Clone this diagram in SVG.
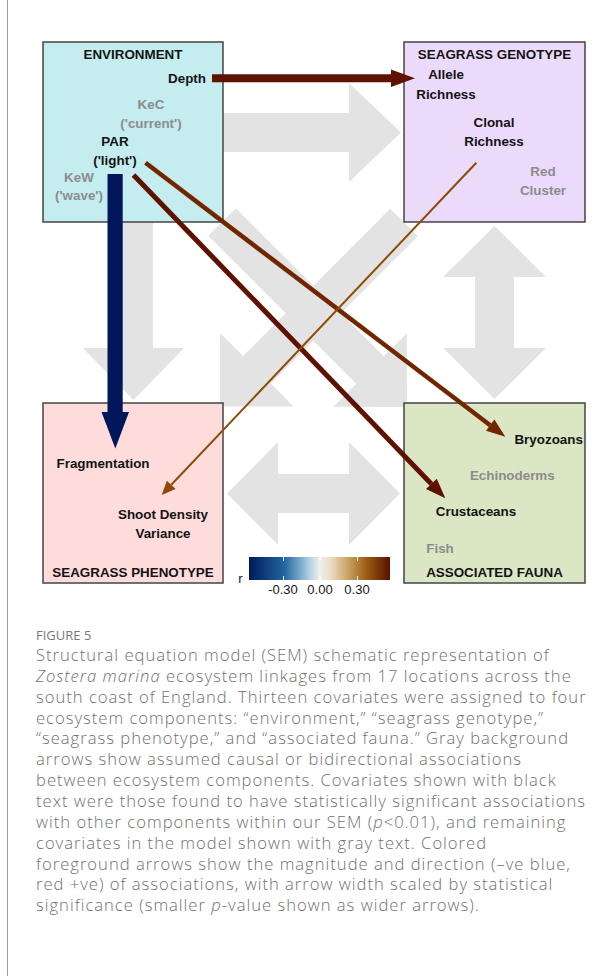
<svg xmlns="http://www.w3.org/2000/svg" width="614" height="976" viewBox="0 0 614 976">
<defs>
<style>
.bg{fill:#e3e3e3}
.box{stroke:#444;stroke-width:1.5}
.t{font-family:"Liberation Sans",Arial,sans-serif;font-weight:bold;font-size:13.4px;fill:#141414;text-anchor:middle}
.g{fill:#8c8c8c}
.lg{font-family:"Liberation Sans",Arial,sans-serif;font-size:13px;fill:#141414;text-anchor:middle}
.cap{font-family:"Open Sans","Liberation Sans",sans-serif;font-weight:300;font-size:16.6px;letter-spacing:1px;fill:#707070}
</style>
<linearGradient id="rg" x1="0" y1="0" x2="1" y2="0">
<stop offset="0" stop-color="#001a5c"/>
<stop offset="0.25" stop-color="#22669f"/>
<stop offset="0.42" stop-color="#a9cbdf"/>
<stop offset="0.5" stop-color="#eef0ee"/>
<stop offset="0.58" stop-color="#eadcc2"/>
<stop offset="0.72" stop-color="#c49a58"/>
<stop offset="0.84" stop-color="#985a10"/>
<stop offset="1" stop-color="#5a1000"/>
</linearGradient>
</defs>
<rect width="614" height="976" fill="#fff"/>
<line x1="7.5" y1="0" x2="7.5" y2="976" stroke="#9a9a9a" stroke-width="1"/>

<g id="background-arrows">
<polygon class="bg" points="223,113 349,113 349,83 401,132.5 349,182 349,152 223,152"/>
<polygon class="bg" points="114,222 153,222 153,348 184,348 133.5,400 83,348 114,348"/>
<polygon class="bg" points="235.8,208.2 383.8,356.2 406.8,333.2 407,407 333.2,406.8 356.2,383.8 208.2,235.8"/>
<polygon class="bg" points="390.2,208.7 417.8,236.3 270.6,383.5 293.6,406.5 220,406.5 220,332.9 243,355.9"/>
<polygon class="bg" points="494.5,226 546,277 514,277 514,348 546,348 494.5,399 443,348 475,348 475,277 443,277"/>
<polygon class="bg" points="227,493.5 278,442 278,474 349,474 349,442 400,493.5 349,545 349,513 278,513 278,545"/>
</g>

<g id="environment">
<rect class="box" x="43" y="42" width="180" height="180" fill="#c5ecee"/>
<text class="t" x="133" y="59">ENVIRONMENT</text>
<text class="t" x="206" y="83" style="text-anchor:end">Depth</text>
<text class="t g" x="151" y="109">KeC</text>
<text class="t g" x="151" y="128">('current')</text>
<text class="t" x="115" y="146">PAR</text>
<text class="t" x="115" y="165">('light')</text>
<text class="t g" x="79" y="181.5">KeW</text>
<text class="t g" x="79" y="200">('wave')</text>
</g>

<g id="seagrass-genotype">
<rect class="box" x="404" y="42" width="181" height="180" fill="#ecdafb"/>
<text class="t" x="494.5" y="58.5">SEAGRASS GENOTYPE</text>
<text class="t" x="446" y="79">Allele</text>
<text class="t" x="446" y="98.5">Richness</text>
<text class="t" x="494" y="127">Clonal</text>
<text class="t" x="494" y="146">Richness</text>
<text class="t g" x="543" y="175.5">Red</text>
<text class="t g" x="543" y="195">Cluster</text>
</g>

<g id="seagrass-phenotype">
<rect class="box" x="43" y="403" width="180" height="180" fill="#fddcdb"/>
<text class="t" x="103" y="468">Fragmentation</text>
<text class="t" x="163" y="519">Shoot Density</text>
<text class="t" x="163" y="537.5">Variance</text>
<text class="t" x="133" y="576.5">SEAGRASS PHENOTYPE</text>
</g>

<g id="associated-fauna">
<rect class="box" x="404" y="403" width="181" height="180" fill="#dae6c4"/>
<text class="t" x="548.7" y="444">Bryozoans</text>
<text class="t g" x="512.3" y="480">Echinoderms</text>
<text class="t" x="476" y="516">Crustaceans</text>
<text class="t g" x="440" y="552.5">Fish</text>
<text class="t" x="494.5" y="576.5">ASSOCIATED FAUNA</text>
</g>

<g id="connectors">
<line x1="212" y1="78.3" x2="392" y2="78.3" stroke="#5f1200" stroke-width="8"/>
<polygon points="391,69.5 415,78.3 391,87" fill="#5f1200"/>
<rect x="107.5" y="174" width="15.2" height="239" fill="#02165c"/>
<polygon points="101.5,412 129,412 115.3,448.5" fill="#02165c"/>
<line x1="145.5" y1="162.7" x2="490.2" y2="425.2" stroke="#722600" stroke-width="4.5"/>
<polygon points="486,430.8 505.3,436.7 494.4,419.6" fill="#722600"/>
<line x1="133.5" y1="175" x2="431.4" y2="483.9" stroke="#5f1100" stroke-width="5"/>
<polygon points="426,489.1 445.3,498.3 436.8,478.7" fill="#5f1100"/>
<line x1="476.3" y1="162.7" x2="171.3" y2="484.8" stroke="#8c4c04" stroke-width="2"/>
<polygon points="175.7,488.9 161.7,495 166.9,480.7" fill="#8c4c04"/>
</g>

<g id="legend">
<rect x="249" y="557" width="141" height="23" fill="url(#rg)"/>
<g stroke="#fff" stroke-width="1">
<line x1="283.5" y1="557" x2="283.5" y2="561"/><line x1="283.5" y1="576" x2="283.5" y2="580"/>
<line x1="320" y1="557" x2="320" y2="561"/><line x1="320" y1="576" x2="320" y2="580"/>
<line x1="357.5" y1="557" x2="357.5" y2="561"/><line x1="357.5" y1="576" x2="357.5" y2="580"/>
</g>
<text class="lg" x="240.5" y="583">r</text>
<text class="lg" x="283" y="594">-0.30</text>
<text class="lg" x="320" y="594">0.00</text>
<text class="lg" x="357" y="594">0.30</text>
</g>

<g id="caption">
<text class="cap" x="36" y="640" style="font-size:13px;font-weight:400;letter-spacing:0;fill:#777">FIGURE 5</text>
<text class="cap" x="36" y="661">Structural equation model (SEM) schematic representation of</text>
<text class="cap" x="36" y="681.9"><tspan font-style="italic">Zostera marina</tspan> ecosystem linkages from 17 locations across the</text>
<text class="cap" x="36" y="702.7">south coast of England. Thirteen covariates were assigned to four</text>
<text class="cap" x="36" y="723.6">ecosystem components: “environment,” “seagrass genotype,”</text>
<text class="cap" x="36" y="744.4">“seagrass phenotype,” and “associated fauna.” Gray background</text>
<text class="cap" x="36" y="765.3">arrows show assumed causal or bidirectional associations</text>
<text class="cap" x="36" y="786.1">between ecosystem components. Covariates shown with black</text>
<text class="cap" x="36" y="807">text were those found to have statistically significant associations</text>
<text class="cap" x="36" y="827.8">with other components within our SEM (<tspan font-style="italic">p</tspan>&lt;0.01), and remaining</text>
<text class="cap" x="36" y="848.7">covariates in the model shown with gray text. Colored</text>
<text class="cap" x="36" y="869.5">foreground arrows show the magnitude and direction (–ve blue,</text>
<text class="cap" x="36" y="890.4">red +ve) of associations, with arrow width scaled by statistical</text>
<text class="cap" x="36" y="911.2">significance (smaller <tspan font-style="italic">p</tspan>-value shown as wider arrows).</text>
</g>
</svg>
